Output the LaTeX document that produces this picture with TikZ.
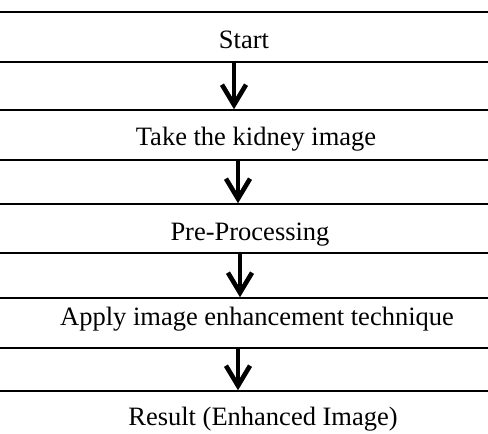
\documentclass[tikz,border=0pt]{standalone}
\usepackage{fontspec}
\setmainfont{Liberation Serif}
\usetikzlibrary{arrows.meta}
\begin{document}
\begin{tikzpicture}[x=1pt,y=-1pt,
  box/.style={draw, line width=1.8pt, minimum width=700pt, minimum height=50pt, inner sep=0pt,
    font=\fontsize{26.5}{30}\selectfont, text depth=0pt},
  % baseline sits half of #1 below the box centre
  drop/.style={text height=#1},
  flow/.style={line width=4pt, -{Straight Barb[length=20pt,width=24pt,line width=4.5pt]}},
  flowshadow/.style={flow, black!45, shift={(1.5,1.5)}}]
  \useasboundingbox (0,0) rectangle (488,434);
  \clip (0,0) rectangle (488,434);

  % process boxes, top to bottom (wider than the page)
  \node[box, drop=22pt] (start) at (244,37) {Start};
  \node[box, drop=20pt] (take) at (256,135) {Take the kidney image};
  \node[box, drop=23pt, minimum height=49pt] (pre) at (250,228.5) {Pre-Processing};
  \node[box, drop=5pt] (apply) at (257,323) {Apply image enhancement technique};
  \node[box, drop=18pt] (result) at (263,416) {Result (Enhanced Image)};

  % connectors with a soft grey shadow underneath
  \foreach \a/\b/\dx in {start/take/-10, take/pre/-18, pre/apply/-10, apply/result/-19}{
    \draw[flowshadow] ([xshift=\dx pt]\a.south) -- ([xshift=\dx pt]\a.south |- \b.north);
    \draw[flow] ([xshift=\dx pt]\a.south) -- ([xshift=\dx pt]\a.south |- \b.north);
  }
\end{tikzpicture}
\end{document}
